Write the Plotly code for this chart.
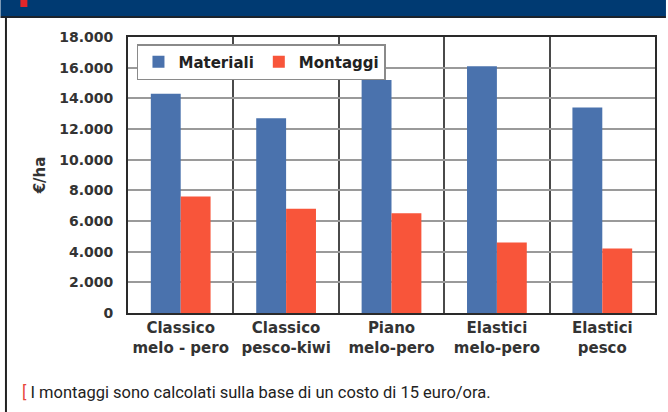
import plotly.graph_objects as go

# ---- data ----
categories = ["Classico<br>melo - pero", "Classico<br>pesco-kiwi", "Piano<br>melo-pero",
              "Elastici<br>melo-pero", "Elastici<br>pesco"]
materiali = [14300, 12700, 15200, 16100, 13400]
montaggi = [7600, 6800, 6500, 4600, 4200]
series_names = ["Materiali", "Montaggi"]
y_title = "€/ha"
caption = "I montaggi sono calcolati sulla base di un costo di 15 euro/ora."

# ---- layout geometry (pixels) ----
W, H = 668, 412
L, R, T, B = 128, 11, 37, 99
PW, PH = W - L - R, H - T - B

def px(x):
    return (x - L) / PW

def py(y):
    return (H - B - y) / PH

BLUE = "#4a72ad"
RED = "#f8553a"
FONT = "DejaVu Sans"

fig = go.Figure()
fig.add_trace(go.Bar(x=categories, y=materiali, name=series_names[0], marker_color=BLUE,
                     marker_line_width=0))
fig.add_trace(go.Bar(x=categories, y=montaggi, name=series_names[1], marker_color=RED,
                     marker_line_width=0))

shapes = [
    # header band
    dict(type="rect", xref="paper", yref="paper", x0=px(0), x1=px(W), y0=py(0), y1=py(16),
         fillcolor="#003a72", line_width=0, layer="above"),
    dict(type="rect", xref="paper", yref="paper", x0=px(0), x1=px(W), y0=py(16), y1=py(18),
         fillcolor="#1c232c", line_width=0, layer="above"),
    # red mark
    dict(type="rect", xref="paper", yref="paper", x0=px(20), x1=px(27), y0=py(0), y1=py(7),
         fillcolor="#e3262b", line_width=0, layer="above"),
    # left frame border
    dict(type="rect", xref="paper", yref="paper", x0=px(4.5), x1=px(6.5), y0=py(18), y1=py(H),
         fillcolor="#222222", line_width=0, layer="above"),
]

fig.update_layout(
    width=W, height=H,
    margin=dict(l=L, r=R, t=T, b=B, pad=0),
    paper_bgcolor="white", plot_bgcolor="white",
    separators=",.",
    barmode="group", bargap=0.433, bargroupgap=0,
    shapes=shapes,
    showlegend=True,
    legend=dict(orientation="h", x=px(137), y=py(44), xanchor="left", yanchor="top",
                bgcolor="white", bordercolor="#8a8a8a", borderwidth=1.5,
                font=dict(family=FONT, size=15, color="#222222", weight="bold"),
                itemwidth=30, tracegroupgap=0),
    font=dict(family=FONT, color="#333333"),
    annotations=[
        dict(xref="paper", yref="paper", x=px(20), y=py(392), xanchor="left", yanchor="middle",
             showarrow=False,
             text="<span style='color:#e8473a'>[</span> " + caption,
             font=dict(family="Roboto", size=16.5, color="#222222")),
    ],
)

fig.update_xaxes(
    type="category", tickson="boundaries", showgrid=True, gridcolor="#4a4a4a", gridwidth=1.5,
    showline=True, linecolor="#2a2a2a", linewidth=2, mirror=True, ticks="",
    tickfont=dict(family=FONT, size=15, color="#333333", weight="bold"),
)
fig.update_yaxes(
    range=[0, 18000], tick0=0, dtick=2000, tickformat=",d",
    showgrid=True, gridcolor="#9a9a9a", gridwidth=2,
    showline=True, linecolor="#2a2a2a", linewidth=2, mirror=True, ticks="",
    ticklabelstandoff=10,
    tickfont=dict(family=FONT, size=14, color="#333333", weight="bold"),
    title=dict(text=y_title, standoff=10,
               font=dict(family=FONT, size=15, color="#333333", weight="bold")),
    zeroline=False,
)

fig.write_html(
    "out.html",
    config={"displayModeBar": False},
    post_script="document.body.style.margin='0';document.body.style.overflow='hidden';",
)
